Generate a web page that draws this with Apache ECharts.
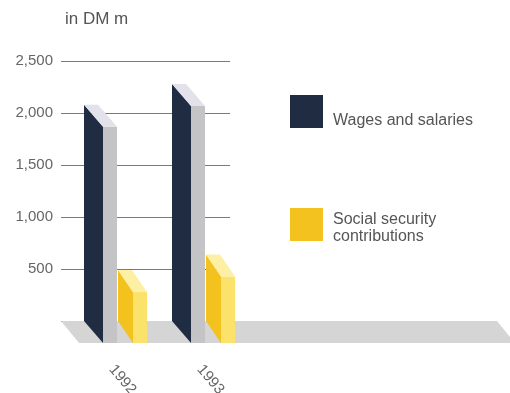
<!DOCTYPE html>
<html>
<head>
<meta charset="utf-8">
<script src="https://cdn.jsdelivr.net/npm/echarts@6/dist/echarts.min.js"></script>
<style>
  html, body { margin: 0; padding: 0; background: #fff; }
  #chart { width: 510px; height: 393px; }
</style>
</head>
<body>
<div id="chart"></div>
<script>
const years = ['1992', '1993'];
const wages = [2080, 2280];
const social = [490, 640];
const yMax = 2500;
const yStep = 500;
const seriesNames = ['Wages and salaries', 'Social security contributions'];
const legendLabels = ['Wages and salaries', 'Social security\ncontributions'];

const FONT = 'Liberation Sans, Arial, sans-serif';
const DEPTH_Y = 22;
const FLOOR_W = 436;
const NAVY = '#1f2c41';
const YELLOW = '#f4c21f';

// one pseudo-3d box: receding side face, front face, top cap
function box(offset, dx, w, side, front, top) {
  return (params, api) => {
    const p = api.coord([api.value(0), api.value(1)]);
    const y0 = api.coord([api.value(0), 0])[1];
    const L = p[0] + offset;
    const yT = p[1];
    const dy = DEPTH_Y;
    return {
      type: 'group',
      children: [
        { type: 'polygon', shape: { points: [[L, yT], [L + dx, yT + dy], [L + dx, y0 + dy], [L, y0]] }, style: { fill: side } },
        { type: 'rect', shape: { x: L + dx, y: yT + dy, width: w, height: y0 - yT }, style: { fill: front } },
        { type: 'polygon', shape: { points: [[L, yT], [L + w, yT], [L + w + dx, yT + dy], [L + dx, yT + dy]] }, style: { fill: top } }
      ]
    };
  };
}

// legend drawn by hand so the text can sit where the original has it
function legendItem(top, color, label, textY) {
  return [
    { type: 'rect', left: 290, top: top, shape: { width: 33, height: 33 }, style: { fill: color } },
    {
      type: 'text', x: 333, y: textY,
      style: { text: label, font: '16px ' + FONT, fill: '#555', lineHeight: 17, verticalAlign: 'middle', align: 'left' }
    }
  ];
}

const chart = echarts.init(document.getElementById('chart'), null, { renderer: 'canvas' });

chart.setOption({
  backgroundColor: '#fff',
  animation: false,
  title: {
    text: 'in DM m',
    left: 60,
    top: 6,
    textStyle: { fontFamily: FONT, fontSize: 17, fontWeight: 'normal', color: '#555' }
  },
  graphic: [
    ...legendItem(95, NAVY, legendLabels[0], 121),
    ...legendItem(208, YELLOW, legendLabels[1], 228)
  ],
  grid: [
    { left: 61, top: 61, width: 169, height: 260, outerBoundsMode: 'none' },
    { left: 62, top: 61, width: 176, height: 260, outerBoundsMode: 'none' }
  ],
  xAxis: [
    { gridIndex: 0, type: 'category', data: years, show: false },
    {
      gridIndex: 1, type: 'category', data: years,
      axisLine: { show: false }, axisTick: { show: false },
      axisLabel: { rotate: -50, margin: 39, fontFamily: FONT, fontSize: 15, color: '#666', padding: [0, 0, 0, 9] }
    }
  ],
  yAxis: [
    {
      gridIndex: 0, type: 'value', min: 0, max: yMax, interval: yStep,
      axisLine: { show: false }, axisTick: { show: false },
      axisLabel: {
        margin: 8, fontFamily: FONT, fontSize: 15, color: '#666',
        formatter: v => (v === 0 ? '' : v.toLocaleString('en-US'))
      },
      splitLine: { lineStyle: { color: '#7a7a7a', width: 1 } }
    },
    { gridIndex: 1, type: 'value', min: 0, max: yMax, interval: yStep, show: false, splitLine: { show: false } }
  ],
  series: [
    {
      name: 'floor',
      type: 'custom',
      xAxisIndex: 1, yAxisIndex: 1,
      silent: true, z: 1,
      data: [[0, 0]],
      renderItem: (params, api) => {
        const y0 = api.coord([0, 0])[1];
        const x0 = params.coordSys.x - 1;
        return {
          type: 'polygon',
          shape: { points: [[x0, y0], [x0 + FLOOR_W, y0], [x0 + FLOOR_W + 18, y0 + DEPTH_Y], [x0 + 18, y0 + DEPTH_Y]] },
          style: { fill: '#d5d5d5' }
        };
      }
    },
    {
      name: seriesNames[0],
      type: 'custom',
      xAxisIndex: 1, yAxisIndex: 1, z: 2,
      itemStyle: { color: NAVY },
      encode: { x: 0, y: 1 },
      data: years.map((y, i) => [i, wages[i]]),
      renderItem: box(-22, 19, 14, NAVY, '#c4c4c7', '#e3e1e9')
    },
    {
      name: seriesNames[1],
      type: 'custom',
      xAxisIndex: 1, yAxisIndex: 1, z: 2,
      itemStyle: { color: YELLOW },
      encode: { x: 0, y: 1 },
      data: years.map((y, i) => [i, social[i]]),
      renderItem: box(12, 15, 14, YELLOW, '#fbe36b', '#fdf0a4')
    }
  ]
});

window.addEventListener('resize', () => chart.resize());
</script>
</body>
</html>
